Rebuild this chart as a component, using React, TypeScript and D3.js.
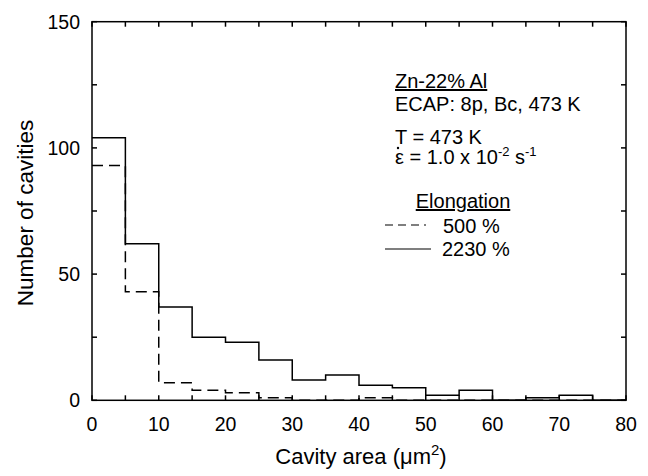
import React, { useEffect, useRef } from "react";
import * as d3 from "d3";

// bin edges (left) of each 5 um^2 class
const binStarts = [0, 5, 10, 15, 20, 25, 30, 35, 40, 45, 50, 55, 60, 65, 70, 75];
const counts2230 = [104, 62, 37, 25, 23, 16, 8, 10, 6, 5, 2, 4, 0, 1, 2, 0];
const counts500 = [93, 43, 7, 4, 3, 1, 0, 0, 1, 0, 0, 0, 0, 0, 0, 0];
const xTicks = [0, 10, 20, 30, 40, 50, 60, 70, 80];
const yTicks = [0, 50, 100, 150];

const W = 648;
const H = 476;
const M = { left: 92, right: 22, top: 21.7, bottom: 75.7 };
const FONT = "'Liberation Sans', Arial, sans-serif";

export default function App() {
  const ref = useRef<SVGSVGElement | null>(null);

  useEffect(() => {
    const svg = d3.select(ref.current);
    svg.selectAll("*").remove();

    const x = d3.scaleLinear().domain([0, 80]).range([M.left, W - M.right]);
    const y = d3.scaleLinear().domain([0, 150]).range([H - M.bottom, M.top]);

    const g = svg.append("g");

    // histogram steps
    const step = d3
      .line<[number, number]>()
      .x((d) => x(d[0]))
      .y((d) => y(d[1]))
      .curve(d3.curveStepAfter);

    const pts = (vals: number[]) => {
      const p: [number, number][] = binStarts.map((b, i) => [b, vals[i]]);
      p.push([80, vals[vals.length - 1]]);
      return p;
    };

    g.append("path")
      .attr("d", step(pts(counts500)))
      .attr("fill", "none")
      .attr("stroke", "#000")
      .attr("stroke-width", 1.5)
      .attr("stroke-dasharray", "11,6");

    g.append("path")
      .attr("d", step(pts(counts2230)))
      .attr("fill", "none")
      .attr("stroke", "#000")
      .attr("stroke-width", 1.5);

    // frame
    g.append("rect")
      .attr("x", x(0))
      .attr("y", y(150))
      .attr("width", x(80) - x(0))
      .attr("height", y(0) - y(150))
      .attr("fill", "none")
      .attr("stroke", "#000")
      .attr("stroke-width", 1.5);

    // inward ticks on all sides
    const tl = 5;
    const xt = d3.range(0, 81, 5);
    const yt = d3.range(0, 151, 25);
    xt.forEach((v) => {
      g.append("line").attr("x1", x(v)).attr("x2", x(v)).attr("y1", y(0)).attr("y2", y(0) - tl).attr("stroke", "#000").attr("stroke-width", 1.5);
      g.append("line").attr("x1", x(v)).attr("x2", x(v)).attr("y1", y(150)).attr("y2", y(150) + tl).attr("stroke", "#000").attr("stroke-width", 1.5);
    });
    yt.forEach((v) => {
      g.append("line").attr("x1", x(0)).attr("x2", x(0) + tl).attr("y1", y(v)).attr("y2", y(v)).attr("stroke", "#000").attr("stroke-width", 1.5);
      g.append("line").attr("x1", x(80)).attr("x2", x(80) - tl).attr("y1", y(v)).attr("y2", y(v)).attr("stroke", "#000").attr("stroke-width", 1.5);
    });

    const txt = g.append("g").attr("font-family", FONT).attr("fill", "#000");

    xTicks.forEach((v) => {
      txt.append("text").attr("x", x(v)).attr("y", y(0) + 31).attr("text-anchor", "middle").attr("font-size", 19.5).text(v);
    });
    yTicks.forEach((v) => {
      txt.append("text").attr("x", x(0) - 12).attr("y", y(v) + 7).attr("text-anchor", "end").attr("font-size", 19.5).text(v);
    });

    // axis titles
    const xl = txt.append("text").attr("x", (x(0) + x(80)) / 2 + 2).attr("y", 464).attr("text-anchor", "middle").attr("font-size", 22);
    xl.append("tspan").text("Cavity area (\u03bcm");
    xl.append("tspan").attr("dy", -9).attr("font-size", 15).text("2");
    xl.append("tspan").attr("dy", 9).text(")");

    txt.append("text")
      .attr("transform", `translate(33,${(y(0) + y(150)) / 2 + 2}) rotate(-90)`)
      .attr("text-anchor", "middle")
      .attr("font-size", 22.5)
      .text("Number of cavities");

    // annotations
    const ax = 395;
    txt.append("text").attr("x", ax).attr("y", 88).attr("font-size", 20).attr("text-decoration", "underline").text("Zn-22% Al");
    txt.append("text").attr("x", ax).attr("y", 111).attr("font-size", 20).text("ECAP: 8p, Bc, 473 K");
    txt.append("text").attr("x", ax).attr("y", 144).attr("font-size", 20).text("T = 473 K");
    const eps = txt.append("text").attr("x", ax).attr("y", 164).attr("font-size", 20);
    eps.append("tspan").text("\u03b5 = 1.0 x 10");
    eps.append("tspan").attr("dy", -8).attr("font-size", 13).text("-2");
    eps.append("tspan").attr("dy", 8).text(" s");
    eps.append("tspan").attr("dy", -8).attr("font-size", 13).text("-1");
    // dot over epsilon (strain rate)
    txt.append("circle").attr("cx", ax + 3).attr("cy", 148).attr("r", 1.2);

    // legend
    txt.append("text").attr("x", 463).attr("y", 208).attr("text-anchor", "middle").attr("font-size", 20).attr("text-decoration", "underline").text("Elongation");
    g.append("line").attr("x1", 385).attr("x2", 426).attr("y1", 225).attr("y2", 225).attr("stroke", "#000").attr("stroke-width", 1.2).attr("stroke-dasharray", "8,5");
    txt.append("text").attr("x", 443).attr("y", 233).attr("font-size", 20).text("500 %");
    g.append("line").attr("x1", 385).attr("x2", 431).attr("y1", 249).attr("y2", 249).attr("stroke", "#000").attr("stroke-width", 1.2);
    txt.append("text").attr("x", 442).attr("y", 256).attr("font-size", 20).text("2230 %");
  }, []);

  return <svg ref={ref} width={W} height={H} style={{ display: "block", position: "absolute", left: 0, top: 0, background: "#fff" }} />;
}
